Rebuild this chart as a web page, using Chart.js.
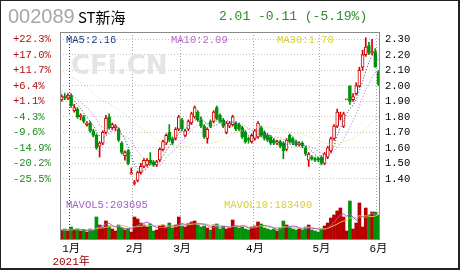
<!DOCTYPE html>
<html>
<head>
<meta charset="utf-8">
<title>002089 ST新海</title>
<script src="https://cdn.jsdelivr.net/npm/chart.js@4.4.1/dist/chart.umd.min.js"></script>
<style>
  html, body { margin: 0; padding: 0; background: #fff; }
  #box { position: relative; width: 460px; height: 270px; overflow: hidden; }
  #box canvas { position: absolute; left: 0; top: 0; }
  .head { position: absolute; white-space: nowrap; line-height: 1; }
  #code { left: 8px; top: 5px; font: 20px "Liberation Sans", Arial, sans-serif; color: #a6a6a6; }
  #name { left: 78px; top: 6px; font: 15px "Noto Sans CJK SC", sans-serif; color: #000; }
  #quote { left: 219px; top: 9px; font: 13px "Liberation Mono", monospace; color: #2d8c2d; }
</style>
</head>
<body>
<div id="box">
  <canvas id="kline" width="460" height="270"></canvas>
  <div class="head" id="code">002089</div>
  <div class="head" id="name">ST新海</div>
  <div class="head" id="quote">2.01 -0.11 (-5.19%)</div>
</div>
<script>
// trading days, 2020-12-29 .. 2021-06-01
const dates = [
  '12-29','12-30','12-31',
  '01-04','01-05','01-06','01-07','01-08','01-11','01-12','01-13','01-14','01-15',
  '01-18','01-19','01-20','01-21','01-22','01-25','01-26','01-27','01-28','01-29',
  '02-01','02-02','02-03','02-04','02-05','02-08','02-09','02-10','02-18','02-19',
  '02-22','02-23','02-24','02-25','02-26',
  '03-01','03-02','03-03','03-04','03-05','03-08','03-09','03-10','03-11','03-12',
  '03-15','03-16','03-17','03-18','03-19','03-22','03-23','03-24','03-25','03-26',
  '03-29','03-30','03-31',
  '04-01','04-02','04-06','04-07','04-08','04-09','04-12','04-13','04-14','04-15',
  '04-16','04-19','04-20','04-21','04-22','04-23','04-26','04-27','04-28','04-29','04-30',
  '05-06','05-07','05-10','05-11','05-12','05-13','05-14','05-17','05-18','05-19',
  '05-20','05-21','05-24','05-25','05-26','05-27','05-28','05-31',
  '06-01'
];
const yearLabel = '2021年';

const opens = [
  1.91,1.93,1.92,1.94,1.84,1.85,1.80,1.80,1.75,1.76,
  1.71,1.68,1.61,1.63,1.70,1.80,1.73,1.73,1.72,1.63,
  1.55,1.58,1.43,1.37,1.39,1.44,1.48,1.49,1.52,1.51,
  1.49,1.52,1.59,1.63,1.70,1.66,1.66,1.72,1.78,1.68,
  1.72,1.76,1.80,1.83,1.78,1.74,1.66,1.77,1.77,1.86,
  1.81,1.78,1.70,1.74,1.75,1.76,1.75,1.73,1.70,1.66,
  1.64,1.66,1.67,1.73,1.70,1.68,1.67,1.65,1.63,1.64,
  1.63,1.59,1.68,1.66,1.64,1.62,1.63,1.60,1.52,1.54,
  1.53,1.53,1.54,1.50,1.54,1.58,1.66,1.74,1.80,1.74,
  1.91,2.00,1.91,1.95,2.00,2.12,2.20,2.26,2.21,2.22,2.09
];
const highs = [
  1.94,1.95,1.95,1.95,1.88,1.86,1.82,1.81,1.77,1.77,
  1.72,1.69,1.64,1.71,1.81,1.82,1.76,1.75,1.73,1.64,
  1.58,1.59,1.47,1.39,1.45,1.50,1.53,1.53,1.57,1.52,
  1.52,1.60,1.65,1.69,1.75,1.67,1.73,1.81,1.79,1.72,
  1.78,1.83,1.87,1.84,1.80,1.75,1.73,1.78,1.84,1.87,
  1.82,1.79,1.77,1.77,1.81,1.77,1.76,1.74,1.71,1.67,
  1.69,1.72,1.77,1.74,1.71,1.69,1.68,1.66,1.65,1.65,
  1.64,1.66,1.69,1.67,1.65,1.64,1.64,1.61,1.57,1.55,
  1.54,1.54,1.55,1.57,1.61,1.67,1.75,1.85,1.83,1.83,
  1.91,2.00,1.95,2.02,2.12,2.23,2.31,2.28,2.30,2.24,2.10
];
const lows = [
  1.90,1.91,1.91,1.86,1.83,1.79,1.78,1.76,1.74,1.70,
  1.67,1.59,1.54,1.62,1.69,1.72,1.72,1.71,1.64,1.56,
  1.52,1.49,1.43,1.36,1.38,1.43,1.47,1.48,1.49,1.48,
  1.48,1.51,1.58,1.62,1.64,1.62,1.65,1.71,1.71,1.67,
  1.71,1.75,1.79,1.77,1.73,1.66,1.63,1.73,1.76,1.78,
  1.76,1.73,1.69,1.73,1.74,1.71,1.71,1.66,1.63,1.63,
  1.63,1.65,1.66,1.67,1.65,1.64,1.62,1.62,1.62,1.60,
  1.53,1.58,1.63,1.62,1.61,1.61,1.60,1.55,1.48,1.52,
  1.51,1.51,1.49,1.49,1.53,1.57,1.65,1.73,1.78,1.73,
  1.91,1.88,1.90,1.94,1.99,2.10,2.19,2.20,2.20,2.12,2.00
];
const closes = [
  1.93,1.92,1.94,1.87,1.86,1.80,1.81,1.77,1.76,1.71,
  1.68,1.60,1.63,1.70,1.79,1.73,1.75,1.74,1.65,1.57,
  1.57,1.50,1.44,1.38,1.44,1.48,1.52,1.52,1.50,1.49,
  1.51,1.59,1.64,1.68,1.65,1.63,1.72,1.80,1.72,1.71,
  1.77,1.82,1.86,1.78,1.74,1.67,1.72,1.74,1.83,1.79,
  1.77,1.74,1.76,1.76,1.80,1.72,1.72,1.67,1.64,1.65,
  1.68,1.71,1.76,1.68,1.66,1.65,1.63,1.63,1.64,1.61,
  1.58,1.65,1.64,1.63,1.62,1.63,1.61,1.56,1.56,1.53,
  1.52,1.52,1.50,1.56,1.60,1.66,1.74,1.83,1.81,1.82,
  1.91,1.90,1.93,2.00,2.10,2.20,2.25,2.21,2.22,2.12,2.01
];
const ma5 = [
  1.948,1.936,1.932,1.916,1.904,1.878,1.856,1.822,1.800,1.770,
  1.746,1.704,1.676,1.664,1.680,1.690,1.720,1.742,1.732,1.688,
  1.656,1.606,1.546,1.492,1.466,1.448,1.452,1.468,1.492,1.502,
  1.508,1.522,1.546,1.582,1.614,1.638,1.664,1.696,1.704,1.716,
  1.744,1.764,1.776,1.788,1.794,1.774,1.754,1.730,1.740,1.750,
  1.770,1.774,1.778,1.764,1.766,1.756,1.752,1.734,1.710,1.680,
  1.672,1.670,1.688,1.696,1.698,1.692,1.676,1.650,1.642,1.632,
  1.618,1.622,1.624,1.622,1.624,1.634,1.626,1.610,1.596,1.578,
  1.556,1.538,1.526,1.526,1.540,1.568,1.612,1.678,1.728,1.772,
  1.822,1.854,1.874,1.912,1.968,2.026,2.096,2.152,2.196,2.200,2.162
];
const ma10 = [
  1.964,1.956,1.952,1.940,1.929,1.913,1.896,1.877,1.858,1.837,
  1.812,1.780,1.749,1.732,1.725,1.718,1.712,1.709,1.698,1.684,
  1.673,1.663,1.644,1.612,1.577,1.552,1.529,1.507,1.492,1.484,
  1.478,1.487,1.507,1.537,1.558,1.573,1.593,1.621,1.643,1.665,
  1.691,1.714,1.736,1.746,1.755,1.759,1.759,1.753,1.764,1.772,
  1.772,1.764,1.754,1.752,1.758,1.763,1.763,1.756,1.737,1.723,
  1.714,1.711,1.711,1.703,1.689,1.682,1.673,1.669,1.669,1.665,
  1.655,1.649,1.637,1.632,1.628,1.626,1.624,1.617,1.609,1.601,
  1.595,1.582,1.568,1.561,1.559,1.562,1.575,1.602,1.627,1.656,
  1.695,1.733,1.776,1.820,1.870,1.924,1.975,2.013,2.054,2.084,2.094
];
const ma30 = [
  2.091,2.079,2.067,2.057,2.046,2.034,2.022,2.009,1.996,1.979,
  1.955,1.935,1.917,1.904,1.895,1.884,1.873,1.862,1.849,1.830,
  1.816,1.800,1.782,1.761,1.744,1.728,1.712,1.698,1.683,1.668,
  1.654,1.643,1.633,1.627,1.620,1.614,1.611,1.612,1.611,1.611,
  1.614,1.621,1.629,1.632,1.630,1.628,1.627,1.627,1.633,1.640,
  1.647,1.655,1.666,1.678,1.690,1.698,1.705,1.710,1.715,1.720,
  1.726,1.730,1.734,1.734,1.734,1.735,1.732,1.726,1.723,1.720,
  1.714,1.708,1.701,1.696,1.692,1.690,1.687,1.681,1.672,1.663,
  1.655,1.647,1.639,1.632,1.625,1.623,1.624,1.629,1.635,1.641,
  1.648,1.655,1.660,1.671,1.686,1.704,1.725,1.744,1.763,1.780,1.795
];
const volumes = [
  68400,76000,60800,91200,68400,76000,60800,68400,53200,76000,
  68400,167200,106400,91200,136800,98800,76000,60800,106400,83600,
  68400,76000,53200,167200,152000,121600,106400,91200,114000,60800,
  68400,98800,106400,91200,121600,83600,106400,167200,106400,91200,
  114000,129200,136800,106400,91200,98800,83600,68400,106400,114000,
  76000,98800,76000,83600,144400,98800,83600,91200,76000,68400,
  91200,98800,129200,114000,83600,76000,68400,76000,60800,83600,
  136800,106400,91200,76000,68400,76000,68400,91200,106400,68400,
  60800,53200,76000,98800,121600,159600,182400,212800,235600,167200,
  60800,288800,76000,121600,273600,91200,235600,182400,205200,205200,182400
];
const mavol5 = [
  68400,69920,68400,72960,72960,74480,71440,72960,65360,66880,
  65360,86640,94240,101840,114000,120080,101840,92720,95760,85120,
  79040,79040,77520,89680,103360,114000,120080,127680,117040,98800,
  88160,86640,89680,85120,97280,100320,101840,114000,117040,110960,
  117040,121600,115520,115520,115520,112480,103360,89680,89680,94240,
  89680,92720,94240,89680,95760,100320,97280,100320,98800,83600,
  82080,85120,92720,100320,103360,100320,94240,83600,72960,72960,
  85120,92720,95760,98800,95760,83600,76000,76000,82080,82080,
  79040,76000,72960,71440,82080,101840,127680,155040,182400,191520,
  171760,193040,165680,142880,164160,170240,159600,180880,197600,183920,202160
];
const mavol10 = [
  68400,69160,68400,70680,70680,71440,70680,70680,69160,69920,
  69920,79040,83600,83600,90440,92720,94240,93480,98800,99560,
  99560,90440,85120,92720,94240,96520,99560,102600,103360,101080,
  101080,103360,108680,101080,98040,94240,94240,101840,101080,104120,
  108680,111720,114760,116280,113240,114760,112480,102600,102600,104880,
  101080,98040,91960,89680,95000,95000,95000,97280,94240,89680,
  91200,91200,96520,99560,93480,91200,89680,88160,86640,88160,
  92720,93480,89680,85880,84360,84360,84360,85880,90440,88920,
  81320,76000,74480,76760,82080,90440,101840,114000,126920,136800,
  136800,160360,160360,162640,177840,171000,176320,173280,170240,174040,186200
];

const priceTicks = [1.4, 1.5, 1.6, 1.7, 1.8, 1.9, 2.0, 2.1, 2.2, 2.3];
const pctTicks = ['-25.5%', '-20.2%', '-14.9%', '-9.6%', '-4.3%', '+1.1%', '+6.4%', '+11.7%', '+17.0%', '+22.3%'];
const maLabels = ['MA5:2.16', 'MA10:2.09', 'MA30:1.78'];
const volLabels = ['MAVOL5:203695', 'MAVOL10:183490'];
const watermark = 'CFi.CN';

const UP = '#d20000';
const VOL_UP = '#b80000';
const DOWN = '#00930a';
const MONO = '"Liberation Mono", "Noto Sans CJK SC", monospace';

const isUp = i => closes[i] >= opens[i];
const monthOf = i => dates[i].slice(0, 2);
const isMonthStart = i => i > 0 && i < dates.length && monthOf(i) !== monthOf(i - 1);

const decor = {
  id: 'decor',
  beforeDatasetsDraw(chart) {
    const { ctx, chartArea } = chart;
    ctx.save();
    ctx.font = 'bold 26px "DejaVu Sans", sans-serif';
    ctx.fillStyle = '#e4e4e4';
    ctx.fillText(watermark, chartArea.left + 11, 74);
    ctx.restore();
  },
  afterDraw(chart) {
    const { ctx, chartArea: a, scales } = chart;
    ctx.save();
    // plot frame
    ctx.strokeStyle = '#8a8a8a';
    ctx.lineWidth = 1;
    ctx.strokeRect(a.left + 0.5, a.top + 0.5, a.right - a.left - 1, a.bottom - a.top);

    ctx.font = '10.5px ' + MONO;
    ctx.textBaseline = 'middle';
    const maColors = ['#1c3c7c', '#b36ad0', '#d6cf3c'];
    const maX = [66, 171, 277];
    maLabels.forEach((t, k) => {
      ctx.fillStyle = maColors[k];
      ctx.fillText(t, maX[k], 40);
    });
    const volColors = ['#a65cc8', '#d6cf3c'];
    const volX = [66, 224];
    volLabels.forEach((t, k) => {
      ctx.fillStyle = volColors[k];
      ctx.fillText(t, volX[k], 205);
    });

    // year under the first January tick
    const yi = dates.findIndex(d => d.startsWith('01'));
    ctx.font = '11px ' + MONO;
    ctx.fillStyle = '#a00000';
    ctx.textAlign = 'center';
    ctx.fillText(yearLabel, scales.x.getPixelForValue(yi), 262);

    // outer frame
    ctx.fillStyle = '#222';
    ctx.fillRect(0, 0, 460, 1);
    ctx.fillRect(0, 0, 1, 270);
    ctx.fillRect(458, 0, 2, 270);
    ctx.fillRect(0, 268, 460, 2);
    ctx.restore();
  }
};

new Chart(document.getElementById('kline'), {
  type: 'bar',
  data: {
    labels: dates,
    datasets: [
      { type: 'line', label: 'MA5', data: ma5, yAxisID: 'y', borderColor: '#1c3c7c',
        borderWidth: 1, borderDash: [1, 2], pointRadius: 0, tension: 0, order: 0 },
      { type: 'line', label: 'MA10', data: ma10, yAxisID: 'y', borderColor: '#b36ad0',
        borderWidth: 1, borderDash: [1, 2], pointRadius: 0, tension: 0, order: 0 },
      { type: 'line', label: 'MA30', data: ma30, yAxisID: 'y', borderColor: '#dcd66a',
        borderWidth: 1, borderDash: [1, 2], pointRadius: 0, tension: 0, order: 0 },
      {
        label: 'body',
        data: opens.map((o, i) => [o, closes[i]]),
        yAxisID: 'y', grouped: false, barThickness: 3, minBarLength: 1,
        backgroundColor: c => isUp(c.dataIndex) ? '#fff' : DOWN,
        borderColor: c => isUp(c.dataIndex) ? UP : DOWN,
        borderWidth: 1, borderSkipped: false, order: 1
      },
      {
        label: 'wick',
        data: lows.map((l, i) => [l, highs[i]]),
        yAxisID: 'y', grouped: false, barThickness: 1,
        backgroundColor: c => isUp(c.dataIndex) ? UP : DOWN,
        borderWidth: 0, order: 2
      },
      {
        label: 'volume',
        data: volumes,
        yAxisID: 'yv', grouped: false, barThickness: 3,
        backgroundColor: c => isUp(c.dataIndex) ? VOL_UP : DOWN,
        borderWidth: 0, order: 2
      },
      { type: 'line', label: 'MAVOL5', data: mavol5, yAxisID: 'yv', borderColor: '#a65cc8',
        borderWidth: 1, pointRadius: 0, tension: 0, order: 0 },
      { type: 'line', label: 'MAVOL10', data: mavol10, yAxisID: 'yv', borderColor: '#d6cf3c',
        borderWidth: 1, pointRadius: 0, tension: 0, order: 0 }
    ]
  },
  options: {
    responsive: false,
    animation: false,
    events: [],
    layout: { padding: { top: 32, left: 13, right: 0, bottom: 0 } },
    plugins: { legend: { display: false }, tooltip: { enabled: false } },
    scales: {
      x: {
        type: 'category',
        offset: true,
        grid: {
          offset: true,
          drawTicks: false,
          color: c => {
            const i = c.index;
            if (!isMonthStart(i)) return 'rgba(0,0,0,0)';
            return monthOf(i) === '01' ? '#c00000' : '#a8a8a8';
          }
        },
        border: { display: false, dash: [1, 2] },
        ticks: {
          autoSkip: false, maxRotation: 0, minRotation: 0, padding: 3,
          color: '#000', font: { family: MONO, size: 11 },
          callback: (v, i) => isMonthStart(i) ? (+monthOf(i)) + '月' : ''
        },
        afterFit: s => { s.height = 31; }
      },
      y: {
        position: 'right',
        min: 1.012, max: 2.347,
        afterBuildTicks: s => { s.ticks = priceTicks.map(v => ({ value: v })); },
        grid: { color: '#c4c4c4', drawTicks: false },
        border: { display: false, dash: [1, 2] },
        ticks: {
          padding: 5, color: '#000', font: { family: MONO, size: 10.5 },
          callback: v => v.toFixed(2)
        },
        afterFit: s => { s.width = 80; }
      },
      pct: {
        position: 'left',
        min: 1.012, max: 2.347,
        afterBuildTicks: s => { s.ticks = priceTicks.map(v => ({ value: v })); },
        grid: { display: false, drawTicks: false },
        border: { display: false },
        ticks: {
          crossAlign: 'far', padding: 0, font: { family: MONO, size: 10.5 },
          color: c => pctTicks[c.index].startsWith('+') ? '#b01010' : '#1d8a1d',
          callback: (v, i) => pctTicks[i]
        },
        afterFit: s => { s.width = 47; }
      },
      yv: { display: false, min: 0, max: 1573200 }
    }
  },
  plugins: [decor]
});
</script>
</body>
</html>
